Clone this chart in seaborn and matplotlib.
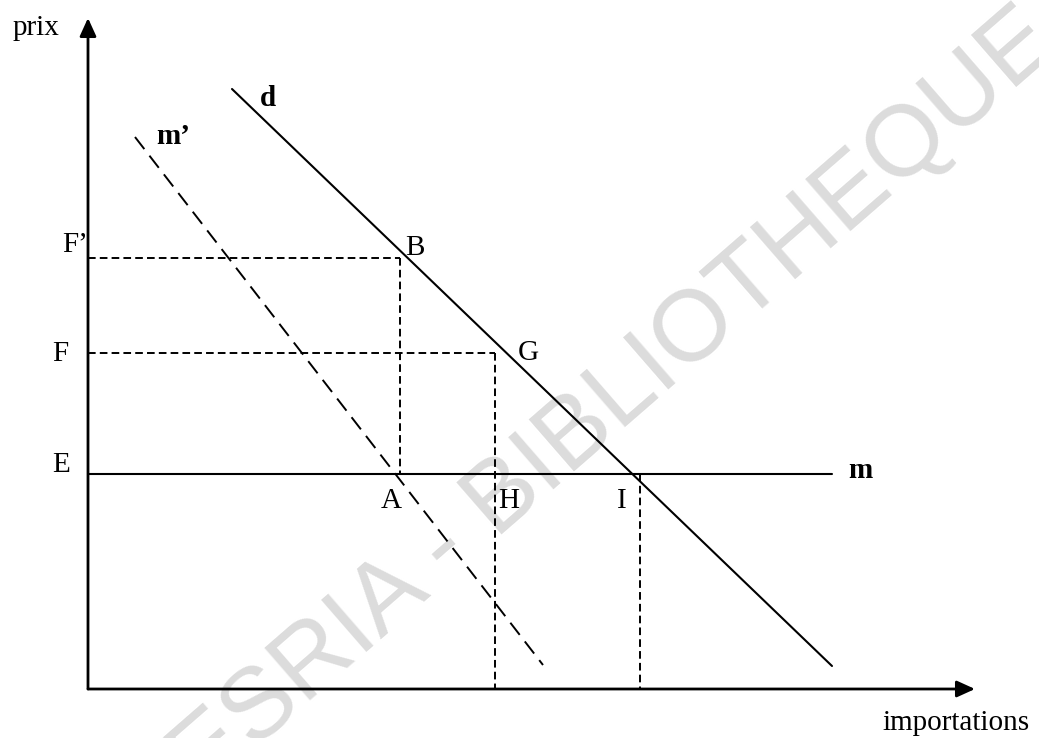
import matplotlib
matplotlib.use("Agg")
import matplotlib.pyplot as plt
import seaborn as sns

# Valeurs du graphique (importations en abscisse, prix en ordonnée)
# courbe de demande d'importations d
d_import = [144, 744]
d_prix = [600, 23]
# courbe m' (tirets longs)
m2_import = [47, 455]
m2_prix = [552, 24]
# offre m au prix E
m_import = [0, 744]
prix_E = 215
# autres niveaux de prix
prix_F = 336
prix_Fp = 431
# quantités importées
q_A = 312
q_H = 407
q_I = 552
# longueur des axes
x_max = 887
y_max = 671

sns.set_theme(style="white")
plt.rcParams["font.family"] = ["Liberation Serif", "DejaVu Serif"]
plt.rcParams["lines.scale_dashes"] = False

fig = plt.figure(figsize=(10.39, 7.38), dpi=100)
ax = fig.add_axes([0, 0, 1, 1])
ax.set_xlim(-88, 951)
ax.set_ylim(-49, 689)
ax.axis("off")

# filigrane
ax.text(527, 287, "ESRIA - BIBLIOTHEQUE", rotation=41, ha="center", va="center",
        fontsize=73, family="Liberation Sans", color="#dcdcdc", zorder=0,
        rotation_mode="anchor")

# axes avec flèches
fleche = dict(arrowstyle="-|>,head_length=0.55,head_width=0.25", color="black",
              lw=2, mutation_scale=20, shrinkA=0, shrinkB=0)
ax.annotate("", xy=(0, y_max), xytext=(0, 0), arrowprops=fleche)
ax.annotate("", xy=(x_max, 0), xytext=(0, 0), arrowprops=fleche)

opts = dict(ax=ax, color="black", estimator=None, sort=False, legend=False)

# courbes principales
sns.lineplot(x=d_import, y=d_prix, linewidth=1.5, **opts)
sns.lineplot(x=m_import, y=[prix_E, prix_E], linewidth=1.5, **opts)
sns.lineplot(x=m2_import, y=m2_prix, linewidth=1.4, linestyle=(0, (11, 6)), **opts)

# lignes de repère en pointillés
petits = (0, (5.5, 3))
sns.lineplot(x=[0, q_A], y=[prix_Fp, prix_Fp], linewidth=1.4, linestyle=petits, **opts)
sns.lineplot(x=[q_A, q_A], y=[prix_Fp, prix_E], linewidth=1.4, linestyle=petits, **opts)
sns.lineplot(x=[0, q_H], y=[prix_F, prix_F], linewidth=1.4, linestyle=petits, **opts)
sns.lineplot(x=[q_H, q_H], y=[prix_F, 0], linewidth=1.4, linestyle=petits, **opts)
sns.lineplot(x=[q_I, q_I], y=[prix_E, 0], linewidth=1.4, linestyle=petits, **opts)

# étiquettes
fs = 21
txt = dict(ha="center", va="center", fontsize=fs, color="black")
ax.text(-52, 661, "prix", **txt)
ax.text(868, -34, "importations", **txt)
ax.text(180, 591, "d", fontweight="bold", **txt)
ax.text(85, 553, "m’", fontweight="bold", **txt)
ax.text(772, 219, "m", fontweight="bold", **txt)
ax.text(-13, 444, "F’", **txt)
ax.text(-28, 335, "F", **txt)
ax.text(-27, 224, "E", **txt)
ax.text(327, 441, "B", **txt)
ax.text(440, 336, "G", **txt)
ax.text(303, 188, "A", **txt)
ax.text(421, 188, "H", **txt)
ax.text(534, 188, "I", **txt)

fig.savefig("out.png", dpi=100)
